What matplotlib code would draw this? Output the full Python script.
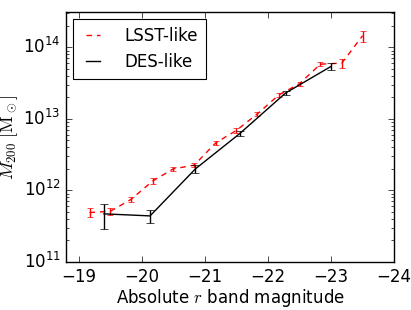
import numpy as np
import matplotlib
matplotlib.use("Agg")
import matplotlib.pyplot as plt

plt.style.use("classic")
plt.rcParams["mathtext.fontset"] = "cm"
plt.rcParams["font.family"] = ["DejaVu Sans"]

# LSST-like sample
lsst_mag = [-19.17, -19.5, -19.83, -20.17, -20.5, -20.83, -21.17, -21.5,
            -21.83, -22.17, -22.5, -22.83, -23.17, -23.5]
lsst_m200 = [4.9e11, 5.1e11, 7.5e11, 1.35e12, 2.0e12, 2.25e12, 4.6e12, 6.9e12,
             1.17e13, 2.15e13, 3.1e13, 5.8e13, 6.0e13, 1.45e14]
lsst_err = [0.7e11, 0.6e11, 0.7e11, 0.12e12, 0.12e12, 0.15e12, 0.35e12, 0.5e12,
            0.08e13, 0.15e13, 0.2e13, 0.4e13, 0.8e13, 0.25e14]

# DES-like sample
des_mag = [-19.4, -20.13, -20.85, -21.55, -22.28, -23.0]
des_m200 = [4.7e11, 4.4e11, 2.0e12, 6.2e12, 2.3e13, 5.4e13]
des_err = [1.8e11, 0.9e11, 0.25e12, 0.5e12, 0.15e13, 0.6e13]

fig = plt.figure(figsize=(4.11, 3.10), dpi=100, facecolor="white")
ax = fig.add_axes([0.161, 0.155, 0.798, 0.806])

ax.plot(lsst_mag, lsst_m200, "r--", lw=1, dashes=(4, 3.5), label="LSST-like")
ax.errorbar(lsst_mag, lsst_m200, yerr=lsst_err, fmt="none", ecolor="r",
            elinewidth=1, capsize=2)
ax.plot(des_mag, des_m200, "k-", lw=1, label="DES-like")
ax.errorbar(des_mag, des_m200, yerr=des_err, fmt="none", ecolor="k",
            elinewidth=1, capsize=3)

ax.set_yscale("log")
ax.set_xlim(-18.8, -24)
ax.set_ylim(1e11, 3.1e14)
ax.set_xticks([-19, -20, -21, -22, -23, -24])
ax.tick_params(labelsize=12)
ax.set_xlabel(r"Absolute $r$ band magnitude", fontsize=12, labelpad=1)
ax.set_ylabel(r"$M_{200}\ [\mathrm{M}_\odot]$", fontsize=13)
ax.yaxis.set_label_coords(-0.14, 0.5)

leg = ax.legend(loc="upper left", fontsize=12, numpoints=2, handlelength=1.4,
                handletextpad=1.2, borderpad=0.5, labelspacing=0.45,
                borderaxespad=0.4)
leg.get_frame().set_linewidth(0.8)

fig.savefig("out.png", dpi=100, facecolor="white")
